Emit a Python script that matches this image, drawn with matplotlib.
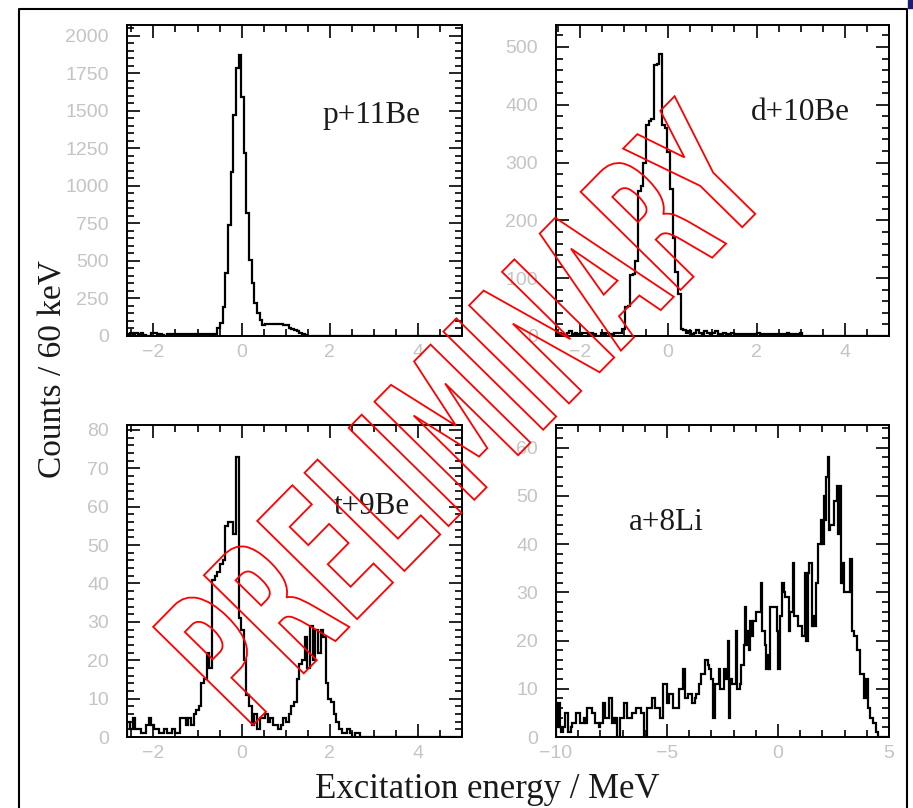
import matplotlib
matplotlib.use('Agg')
import matplotlib.pyplot as plt
import numpy as np
from matplotlib.ticker import MultipleLocator
from matplotlib.textpath import TextPath
from matplotlib.patches import PathPatch, Rectangle
from matplotlib.font_manager import FontProperties
from matplotlib.transforms import Affine2D
from matplotlib.lines import Line2D

largura_bin = 0.06  # 60 keV

# p+11Be (bins a partir de -2.59 MeV)
inicio_p = -2.59
contagens_p = [15, 18, 15, 18, 15, 18, 5, 3, 3, 18, 18, 15, 15, 5, 3, 12, 12, 12, 12, 12,
               12, 12, 12, 12, 12, 12, 12, 12, 12, 12, 12, 12, 15, 15,
               51, 84, 195, 418, 740, 1095, 1473, 1785, 1873, 1595, 1220, 818, 507, 353, 220, 153,
               107, 73, 80, 80, 82, 80, 80, 78, 80, 75, 70, 55, 45, 40, 30, 22, 12, 5,
               0, 0, 0, 0, 0, 0, 0, 0, 0, 0, 0, 0, 0, 0, 0, 0, 0, 0, 0, 0,
               0, 0, 0, 0, 0, 0, 0, 0, 0, 0, 0, 0, 0, 0, 0, 0, 0, 0, 0, 0,
               0, 0, 0, 0, 0, 0, 0, 0, 0, 0, 0, 0, 0, 0, 0, 0, 0, 0, 0]

# d+10Be (bins a partir de -2.54 MeV)
inicio_d = -2.54
contagens_d = [3, 5, 3, 0, 5, 8, 3, 5, 3, 0, 5, 5, 3, 5, 3, 0, 0, 5, 3, 5, 3, 3, 5, 5, 5,
               12, 50, 52, 105, 108, 130, 250, 260, 300, 365, 372, 375, 468, 470, 487, 365,
               360, 318, 255, 170, 110, 72, 12, 10,
               5, 8, 3, 5, 10, 5, 3, 8, 5, 3, 5, 8, 3, 3, 5, 3, 3, 5, 3, 3, 3, 3,
               3, 3, 3, 3, 3, 5, 3, 3, 3, 3, 3, 3, 3, 3, 3, 3, 5, 3, 0, 3, 3, 5,
               0, 0, 0, 0, 0, 0, 0, 0, 0, 0, 0, 0, 0, 0, 0, 0, 0, 0, 0, 0,
               0, 0, 0, 0, 0, 0, 0, 0, 0, 0, 0, 0, 0]

# t+9Be (bins a partir de -2.59 MeV)
inicio_t = -2.59
contagens_t = [4, 2, 5, 2, 2, 1, 1, 3, 5, 3,
               2, 2, 1, 1, 2, 1, 1, 2, 1, 1,
               5, 5, 3, 5, 3, 6, 7, 8, 14, 15,
               22, 18, 41, 42, 43, 45, 46, 55, 56, 56,
               53, 73, 31, 28, 20, 11, 8, 3, 6, 2,
               5, 5, 6, 4, 5, 3, 3, 2, 3, 5,
               4, 6, 8, 9, 15, 19, 20, 26, 18, 29,
               20, 28, 22, 28, 26, 14, 10, 9, 6, 4,
               2, 1, 1, 2, 1, 0, 1, 1, 0, 0,
               0, 0, 0, 0, 0, 0, 0, 0, 0, 0, 0, 0, 0, 0, 0, 0, 0, 0, 0, 0,
               0, 0, 0, 0, 0, 0, 0, 0, 0, 0, 0, 0, 0, 0, 0, 0, 0]

# a+8Li (bins a partir de -10 MeV)
inicio_a = -10.0
contagens_a = [7, 2, 7, 2, 1, 2, 2, 5, 5, 1,
               1, 2, 3, 3, 3, 5, 5, 5, 3, 3,
               3, 4, 3, 6, 6, 6, 6, 5, 5, 3,
               3, 3, 2, 3, 3, 7, 7, 4, 4, 4,
               8, 8, 3, 4, 3, 4, 0, 0, 4, 4,
               4, 7, 7, 4, 4, 4, 4, 5, 5, 5,
               6, 6, 6, 6, 5, 5, 0, 0, 6, 6,
               6, 6, 8, 8, 6, 6, 6, 6, 4, 4,
               11, 11, 11, 7, 7, 9, 9, 9, 6, 6,
               6, 6, 10, 10, 10, 14, 14, 8, 8, 9,
               9, 9, 7, 7, 8, 9, 9, 11, 11, 13,
               13, 13, 16, 16, 15, 14, 12, 12, 4, 11,
               11, 11, 14, 10, 10, 10, 14, 14, 12, 20,
               4, 12, 11, 11, 11, 22, 10, 10, 11, 15,
               15, 19, 27, 19, 22, 18, 24, 21, 24, 24,
               26, 26, 26, 26, 32, 22, 22, 19, 14, 17,
               14, 27, 27, 27, 27, 27, 22, 14, 25, 25,
               32, 30, 29, 29, 29, 22, 26, 26, 36, 25,
               25, 25, 23, 23, 23, 21, 21, 34, 20, 34,
               36, 36, 23, 25, 23, 32, 32, 40, 40, 45,
               40, 50, 45, 54, 58, 43, 44, 44, 44, 49,
               49, 52, 42, 52, 32, 36, 30, 30, 30, 30,
               30, 37, 22, 22, 21, 21, 18, 18, 13, 13,
               13, 8, 8, 12, 6, 6, 4, 4, 3, 3,
               1, 1, 0, 0, 0, 0, 0, 0, 0, 0]

rotulos = ['p+11Be', 'd+10Be', 't+9Be', 'a+8Li']

W, H = 913, 808
fig = plt.figure(figsize=(W / 100, H / 100), dpi=100)


def eixo(x0, y0, x1, y1):
    # caixa em pixels (origem no topo esquerdo)
    return fig.add_axes([x0 / W, 1 - y1 / H, (x1 - x0) / W, (y1 - y0) / H])


def painel(ax, inicio, contagens, xlim, ylim, xmaj, xmin, ymaj, ymin):
    bordas = inicio + largura_bin * np.arange(len(contagens) + 1)
    ax.stairs(contagens, bordas, color='black', linewidth=1.6)
    ax.set_xlim(*xlim)
    ax.set_ylim(*ylim)
    ax.xaxis.set_major_locator(MultipleLocator(xmaj))
    ax.xaxis.set_minor_locator(MultipleLocator(xmin))
    ax.yaxis.set_major_locator(MultipleLocator(ymaj))
    ax.yaxis.set_minor_locator(MultipleLocator(ymin))
    ax.tick_params(which='both', direction='in', top=True, right=True,
                   width=1.2, labelcolor='#c4c4c4', labelsize=14)
    ax.tick_params(which='major', length=9.5)
    ax.tick_params(which='minor', length=4.8)
    ax.tick_params(axis='y', pad=13)
    ax.tick_params(axis='x', pad=6)
    for lab in ax.get_xticklabels() + ax.get_yticklabels():
        lab.set_family('Liberation Sans')
    for s in ax.spines.values():
        s.set_linewidth(1.4)


ax1 = eixo(127, 25, 462, 336)
painel(ax1, inicio_p, contagens_p, (-2.6, 5.0), (0, 2073), 2, 0.5, 250, 50)
ax2 = eixo(556, 25, 889, 336)
painel(ax2, inicio_d, contagens_d, (-2.54, 5.0), (0, 538), 2, 0.5, 100, 20)
ax3 = eixo(127, 425, 462, 737)
painel(ax3, inicio_t, contagens_t, (-2.6, 5.0), (0, 81.3), 2, 0.5, 10, 2)
ax4 = eixo(556, 425, 889, 737)
painel(ax4, inicio_a, contagens_a, (-10, 5), (0, 64.7), 5, 1, 10, 2)

# rótulos dos painéis
serif = 'Liberation Serif'
pos_rotulos = [(371, 116), (800, 112), (372, 507), (666, 522)]
for txt, (px, py) in zip(rotulos, pos_rotulos):
    fig.text(px / W, 1 - py / H, txt, family=serif, fontsize=22.5,
             color='#1a1a1a', ha='center', va='center')

fig.text(53 / W, 1 - 369 / H, 'Counts / 60 keV', family=serif, fontsize=24,
         rotation=90, ha='center', va='center', color='#1a1a1a')
fig.text(487 / W, 1 - 790 / H, 'Excitation energy / MeV', family=serif,
         fontsize=25, ha='center', va='center', color='#1a1a1a')

# moldura do slide
fig.add_artist(Line2D([19 / W, 19 / W, 907 / W, 907 / W], [0, 1 - 9 / H, 1 - 9 / H, 0],
                      transform=fig.transFigure, color='black', lw=1.5))
fig.add_artist(Rectangle((908 / W, 1 - 8 / H), 5 / W, 8 / H, transform=fig.transFigure,
                         color='#1c1c7a'))

# marca d'água PRELIMINARY (contorno vermelho)
fp = FontProperties(family='DejaVu Sans', weight='bold')
tp = TextPath((0, 0), 'PRELIMINARY', size=100, prop=fp)
bb = tp.get_extents()
tr = (Affine2D().translate(-bb.x0, -bb.y0)
      .scale(744 / bb.width, 140 / bb.height)
      .rotate_deg(45.5).translate(253, H - 725))
fig.add_artist(PathPatch(tp, transform=tr, facecolor='none', edgecolor='red',
                         lw=1.3, zorder=10))

fig.savefig('out.png', dpi=100)
